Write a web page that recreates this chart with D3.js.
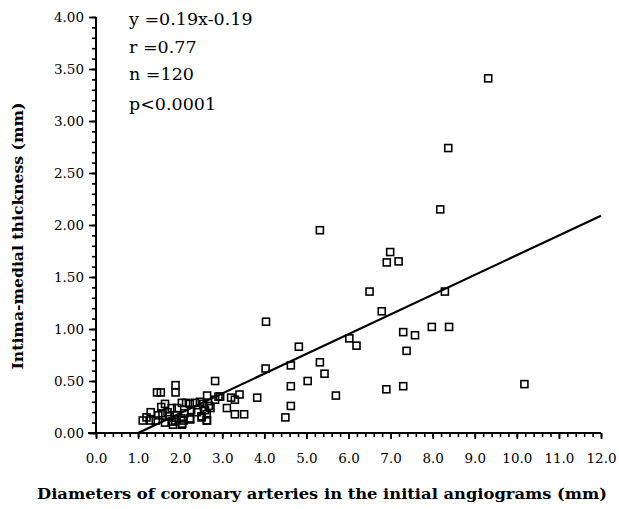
<!DOCTYPE html>
<html lang="en">
  <script src="https://d3js.org/d3.v7.min.js"></script>
  <style>
    body {
      margin: 0;
      background: #fff;
    }
    text {
      font-family: "DejaVu Serif", "Liberation Serif", serif;
      fill: #000;
    }
  </style>
  <body>
    <svg width="619" height="509"></svg>
    <script>
      // diameters (mm) and intima-medial thickness (mm)
      const diameters = [
        9.32, 8.37, 8.18, 5.32, 6.99, 6.91, 7.19, 6.5, 8.29, 6.79, 4.04, 6.02,
        6.19, 4.82, 7.3, 7.58, 7.98, 8.39, 7.38, 4.63, 5.32, 5.43, 5.03, 4.63,
        5.7, 6.9, 7.3, 10.18, 4.63, 4.5, 4.03, 2.83, 1.89, 1.89, 1.45, 1.54,
        3.83, 3.41, 3.21, 3.3, 2.91, 2.64, 3.11, 3.3, 3.52, 2.72, 2.64, 2.51,
        2.24, 2.04, 1.83, 1.11, 1.3, 1.3, 1.48, 1.42, 1.64, 1.58, 1.7, 1.64,
        1.8, 1.88, 1.88, 2.02, 2.05, 2.04, 2.14, 2.23, 2.26, 2.23, 2.35, 2.47,
        2.51, 2.59, 2.63, 2.68, 2.83, 2.95, 1.93, 1.8, 2.63, 2.55, 2.08, 1.2,
        1.55, 2.4, 2.1, 1.75
      ];
      const thickness = [
        3.41, 2.74, 2.15, 1.95, 1.74, 1.64, 1.65, 1.36, 1.36, 1.17, 1.07, 0.91,
        0.84, 0.83, 0.97, 0.94, 1.02, 1.02, 0.79, 0.65, 0.68, 0.57, 0.5, 0.45,
        0.36, 0.42, 0.45, 0.47, 0.26, 0.15, 0.62, 0.5, 0.46, 0.39, 0.39, 0.39,
        0.34, 0.37, 0.34, 0.32, 0.35, 0.36, 0.24, 0.18, 0.18, 0.24, 0.12, 0.15,
        0.13, 0.08, 0.08, 0.12, 0.2, 0.12, 0.17, 0.12, 0.28, 0.19, 0.2, 0.1,
        0.24, 0.17, 0.12, 0.14, 0.09, 0.29, 0.29, 0.28, 0.22, 0.14, 0.29, 0.3,
        0.16, 0.22, 0.12, 0.26, 0.32, 0.35, 0.24, 0.11, 0.18, 0.28, 0.12, 0.15,
        0.25, 0.2, 0.19, 0.16
      ];

      // regression line y = 0.19x - 0.19, drawn from x = 1 to 12
      const slope = 0.19;
      const intercept = -0.19;
      const fitRange = [1, 12];

      const xTicks = d3.range(0, 12.01, 1);
      const yTicks = d3.range(0, 4.01, 0.5);
      const stats = ["y =0.19x-0.19", "r =0.77", "n =120", "p<0.0001"];

      const svg = d3.select("svg");

      var x = d3.scaleLinear().domain([0, 12]).range([96, 601]);
      var y = d3.scaleLinear().domain([0, 4]).range([433, 17]);

      // minor ticks first
      svg
        .append("g")
        .attr("transform", "translate(96,0)")
        .call(d3.axisLeft(y).tickValues(d3.range(0, 4.01, 0.1)).tickSize(4).tickFormat(""))
        .call((g) => g.select(".domain").remove())
        .selectAll("line")
        .attr("stroke-width", 1.6);

      svg
        .append("g")
        .attr("transform", "translate(0,433)")
        .call(d3.axisBottom(x).tickValues(d3.range(0, 12.01, 0.2)).tickSize(4).tickFormat(""))
        .call((g) => g.select(".domain").remove())
        .selectAll("line")
        .attr("stroke-width", 1.6);

      // y axis
      const yAxis = svg
        .append("g")
        .attr("transform", "translate(96,0)")
        .call(
          d3.axisLeft(y).tickValues(yTicks).tickSize(7).tickPadding(5)
            .tickFormat(d3.format(".2f"))
        );
      yAxis.select(".domain").attr("d", "M0,17V433").attr("stroke-width", 2);
      yAxis.selectAll("line").attr("stroke-width", 1.8);
      yAxis.selectAll("text").attr("font-size", 13.5).style("font-family", "DejaVu Serif");

      // x axis
      const xAxis = svg
        .append("g")
        .attr("transform", "translate(0,433)")
        .call(
          d3.axisBottom(x).tickValues(xTicks).tickSize(6).tickPadding(14)
            .tickFormat(d3.format(".1f"))
        );
      xAxis.select(".domain").attr("d", "M88,0H601").attr("stroke-width", 2);
      xAxis.selectAll("line").attr("stroke-width", 1.8);
      xAxis.selectAll("text").attr("font-size", 13.5).style("font-family", "DejaVu Serif");

      // regression line
      svg
        .append("line")
        .attr("x1", x(fitRange[0]))
        .attr("y1", y(slope * fitRange[0] + intercept))
        .attr("x2", x(fitRange[1]))
        .attr("y2", y(slope * fitRange[1] + intercept))
        .attr("stroke", "#000")
        .attr("stroke-width", 2.2);

      // points
      svg
        .append("g")
        .selectAll("rect")
        .data(diameters)
        .join("rect")
        .attr("x", (d) => x(d) - 3.5)
        .attr("y", (d, i) => y(thickness[i]) - 3.5)
        .attr("width", 7)
        .attr("height", 7)
        .attr("fill", "none")
        .attr("stroke", "#000")
        .attr("stroke-width", 1.6);

      // stats text
      svg
        .append("g")
        .selectAll("text")
        .data(stats)
        .join("text")
        .attr("x", 129)
        .attr("y", (d, i) => [25, 53, 80, 110][i])
        .attr("font-size", 17.5)
        .text((d) => d);

      // axis titles
      svg
        .append("text")
        .attr("x", 322)
        .attr("y", 499)
        .attr("text-anchor", "middle")
        .attr("font-size", 15)
        .attr("font-weight", "bold")
        .attr("textLength", 570)
        .attr("lengthAdjust", "spacingAndGlyphs")
        .text("Diameters of coronary arteries in the initial angiograms (mm)");

      svg
        .append("text")
        .attr("transform", "translate(23,236) rotate(-90)")
        .attr("text-anchor", "middle")
        .attr("font-size", 15)
        .attr("font-weight", "bold")
        .attr("textLength", 267)
        .attr("lengthAdjust", "spacingAndGlyphs")
        .text("Intima-medial thickness (mm)");
    </script>
  </body>
</html>
